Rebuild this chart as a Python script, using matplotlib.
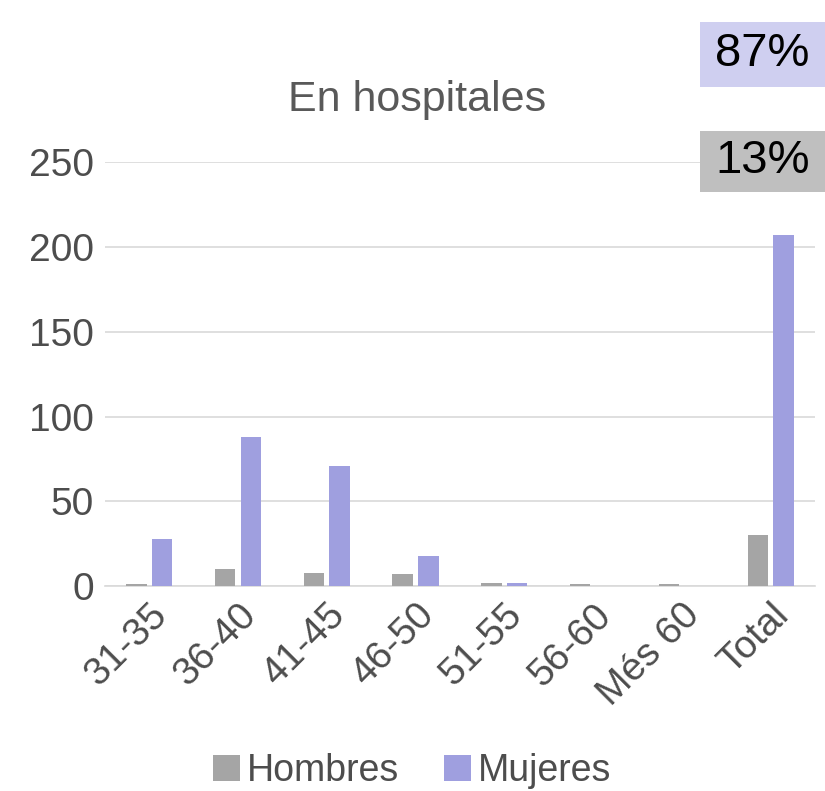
import numpy as np
import matplotlib.pyplot as plt
from matplotlib.patches import Rectangle

plt.rcParams['font.family'] = ['Liberation Sans', 'DejaVu Sans']

categorias = ['31-35', '36-40', '41-45', '46-50', '51-55', '56-60', 'Més 60', 'Total']
hombres = [1, 10, 8, 7, 2, 1, 1, 30]
mujeres = [28, 88, 71, 18, 2, 0, 0, 207]
pct_mujeres = '87%'
pct_hombres = '13%'

gris = '#A5A5A5'
lila = '#9F9FDF'
texto = '#4D4D4D'

fig = plt.figure(figsize=(8.25, 7.91), dpi=100)
ax = fig.add_axes([0.127, 0.259, 0.861, 0.536])

x = np.arange(len(categorias))
w = 0.23
ax.bar(x - 0.145, hombres, w, color=gris, label='Hombres', zorder=3)
ax.bar(x + 0.145, mujeres, w, color=lila, label='Mujeres', zorder=3)

ax.set_xlim(-0.5, len(categorias) - 0.5)
ax.set_ylim(0, 250)
ax.set_yticks([0, 50, 100, 150, 200, 250])
ax.yaxis.grid(True, color='#D9D9D9', linewidth=1.2, zorder=0)
for s in ['top', 'right', 'left']:
    ax.spines[s].set_visible(False)
ax.spines['bottom'].set_color('#D9D9D9')
ax.spines['bottom'].set_linewidth(1.2)
ax.tick_params(axis='both', length=0, labelsize=28, colors=texto, pad=8)
ax.set_xticks(x)
ax.set_xticklabels(categorias, rotation=45, ha='right', rotation_mode='anchor')

fig.text(0.505, 0.874, 'En hospitales', ha='center', va='center', fontsize=31, color='#595959')

# cajas de porcentaje
fig.patches.append(Rectangle((0.848, 0.890), 0.152, 0.082, transform=fig.transFigure,
                             facecolor='#CFCFF0', edgecolor='none'))
fig.patches.append(Rectangle((0.848, 0.757), 0.152, 0.078, transform=fig.transFigure,
                             facecolor='#BFBFBF', edgecolor='none'))
fig.text(0.924, 0.932, pct_mujeres, ha='center', va='center', fontsize=34, color='black')
fig.text(0.924, 0.797, pct_hombres, ha='center', va='center', fontsize=34, color='black')

fig.legend(loc='center', bbox_to_anchor=(0.5, 0.025), ncol=2, frameon=False,
           fontsize=27, labelcolor=texto, handlelength=0.7, handleheight=0.7,
           handletextpad=0.2, columnspacing=1.2)

fig.savefig('out.png', dpi=100)
